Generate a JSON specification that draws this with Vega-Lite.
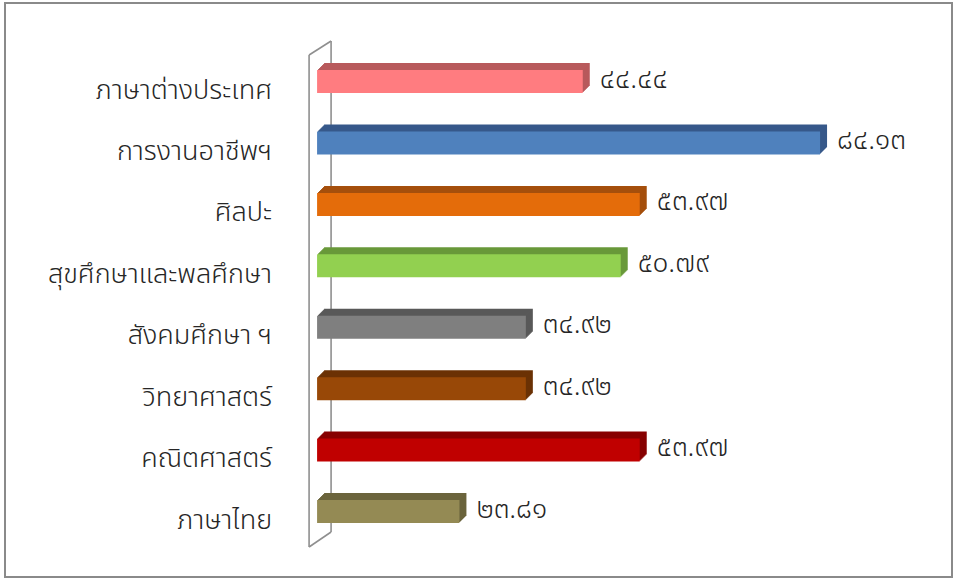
{
  "$schema": "https://vega.github.io/schema/vega-lite/v6.json",
  "width": 947,
  "height": 574,
  "autosize": {"type": "none"},
  "padding": {"left": 5, "top": 3, "right": 6, "bottom": 3},
  "background": "white",
  "config": {
    "view": {"stroke": "#8a8a8a", "strokeWidth": 2},
    "font": "Noto Sans Thai, Noto Sans"
  },
  "data": {
    "values": [
      {"subject": "ภาษาต่างประเทศ", "value": 44.44, "label": "๔๔.๔๔"},
      {"subject": "การงานอาชีพฯ", "value": 84.13, "label": "๘๔.๑๓"},
      {"subject": "ศิลปะ", "value": 53.97, "label": "๕๓.๙๗"},
      {"subject": "สุขศึกษาและพลศึกษา", "value": 50.79, "label": "๕๐.๗๙"},
      {"subject": "สังคมศึกษา ฯ", "value": 34.92, "label": "๓๔.๙๒"},
      {"subject": "วิทยาศาสตร์", "value": 34.92, "label": "๓๔.๙๒"},
      {"subject": "คณิตศาสตร์", "value": 53.97, "label": "๕๓.๙๗"},
      {"subject": "ภาษาไทย", "value": 23.81, "label": "๒๓.๘๑"}
    ]
  },
  "encoding": {
    "y": {"field": "subject", "type": "nominal", "sort": null, "axis": null, "scale": {"domain": ["ภาษาต่างประเทศ", "การงานอาชีพฯ", "ศิลปะ", "สุขศึกษาและพลศึกษา", "สังคมศึกษา ฯ", "วิทยาศาสตร์", "คณิตศาสตร์", "ภาษาไทย"], "paddingInner": 0, "paddingOuter": 0.672, "align": 0.579}},
    "x": {"field": "value", "type": "quantitative", "axis": null, "scale": {"domain": [-52.2, 106.2]}}
  },
  "layer": [
    {
      "transform": [{"filter": "datum.subject === 'ภาษาไทย'"}],
      "mark": {"type": "rule", "color": "#8f8f8f", "strokeWidth": 1.6, "xOffset": -8, "yOffset": -26.5, "y2Offset": 35.5},
      "encoding": {
        "x": {"datum": 0, "type": "quantitative"},
        "y": {"datum": "ภาษาต่างประเทศ", "type": "nominal"},
        "y2": {"datum": "ภาษาไทย"}
      }
    },
    {
      "transform": [{"filter": "datum.subject === 'ภาษาไทย'"}],
      "mark": {"type": "rule", "color": "#8f8f8f", "strokeWidth": 1.6, "xOffset": 14, "yOffset": -40.5, "y2Offset": 20.5},
      "encoding": {
        "x": {"datum": 0, "type": "quantitative"},
        "y": {"datum": "ภาษาต่างประเทศ", "type": "nominal"},
        "y2": {"datum": "ภาษาไทย"}
      }
    },
    {
      "transform": [{"filter": "datum.subject === 'ภาษาไทย'"}],
      "mark": {"type": "rule", "color": "#8f8f8f", "strokeWidth": 1.6, "xOffset": -8, "x2Offset": 14, "yOffset": -26.5, "y2Offset": -40.5},
      "encoding": {
        "x": {"datum": 0, "type": "quantitative"},
        "x2": {"datum": 0},
        "y": {"datum": "ภาษาต่างประเทศ", "type": "nominal"},
        "y2": {"datum": "ภาษาต่างประเทศ"}
      }
    },
    {
      "transform": [{"filter": "datum.subject === 'ภาษาไทย'"}],
      "mark": {"type": "rule", "color": "#8f8f8f", "strokeWidth": 1.6, "xOffset": -8, "x2Offset": 14, "yOffset": 35.5, "y2Offset": 20.5},
      "encoding": {
        "x": {"datum": 0, "type": "quantitative"},
        "x2": {"datum": 0},
        "y": {"datum": "ภาษาไทย", "type": "nominal"},
        "y2": {"datum": "ภาษาไทย"}
      }
    },
    {
      "encoding": {
        "fill": {"field": "subject", "type": "nominal", "legend": null, "scale": {"domain": ["ภาษาต่างประเทศ", "การงานอาชีพฯ", "ศิลปะ", "สุขศึกษาและพลศึกษา", "สังคมศึกษา ฯ", "วิทยาศาสตร์", "คณิตศาสตร์", "ภาษาไทย"], "range": ["#b85a5c", "#37598a", "#a54f0c", "#69993a", "#595959", "#6b3205", "#870000", "#6b643c"]}}
      },
      "layer": [
        {"mark": {"type": "bar", "height": 23, "xOffset": 7, "x2Offset": 7, "yOffset": -7}},
        {"mark": {"type": "bar", "height": 23, "xOffset": 6, "x2Offset": 6, "yOffset": -6}},
        {"mark": {"type": "bar", "height": 23, "xOffset": 5, "x2Offset": 5, "yOffset": -5}},
        {"mark": {"type": "bar", "height": 23, "xOffset": 4, "x2Offset": 4, "yOffset": -4}},
        {"mark": {"type": "bar", "height": 23, "xOffset": 3, "x2Offset": 3, "yOffset": -3}},
        {"mark": {"type": "bar", "height": 23, "xOffset": 2, "x2Offset": 2, "yOffset": -2}},
        {"mark": {"type": "bar", "height": 23, "xOffset": 1, "x2Offset": 1, "yOffset": -1}}
      ]
    },
    {
      "mark": {"type": "bar", "height": 23},
      "encoding": {
        "color": {"field": "subject", "type": "nominal", "legend": null, "scale": {"domain": ["ภาษาต่างประเทศ", "การงานอาชีพฯ", "ศิลปะ", "สุขศึกษาและพลศึกษา", "สังคมศึกษา ฯ", "วิทยาศาสตร์", "คณิตศาสตร์", "ภาษาไทย"], "range": ["#ff7c80", "#4f81bd", "#e46c0a", "#92d050", "#7f7f7f", "#984807", "#c00000", "#948a54"]}}
      }
    },
    {
      "mark": {"type": "text", "align": "left", "baseline": "middle", "xOffset": 17, "yOffset": -2, "fontSize": 28, "fontWeight": 300, "color": "#262626"},
      "encoding": {
        "text": {"field": "label", "type": "nominal"}
      }
    },
    {
      "mark": {"type": "text", "align": "right", "baseline": "middle", "xOffset": -45, "yOffset": 9, "fontSize": 27, "fontWeight": 300, "color": "#262626"},
      "encoding": {
        "x": {"datum": 0, "type": "quantitative"},
        "text": {"field": "subject", "type": "nominal"}
      }
    }
  ]
}
